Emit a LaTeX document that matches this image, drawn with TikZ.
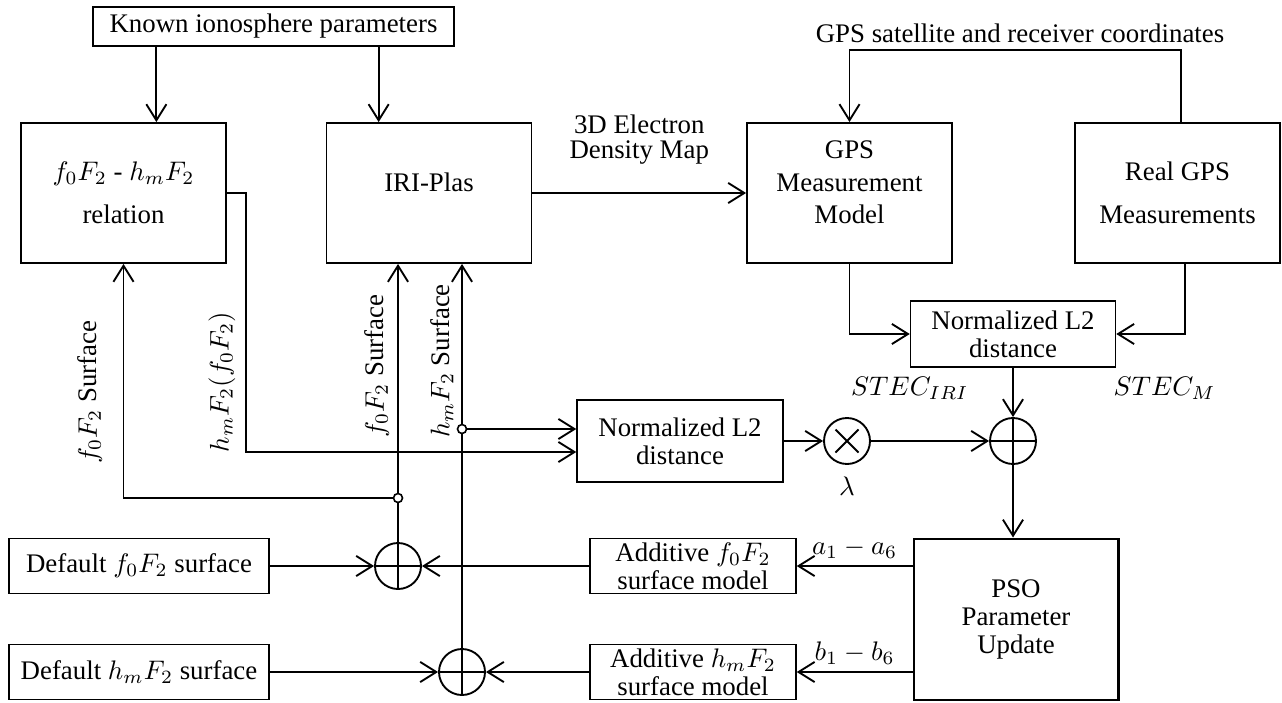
\documentclass[tikz,border=0pt]{standalone}
\usepackage[no-math]{fontspec}
\setmainfont{Liberation Serif}
\usetikzlibrary{arrows.meta,calc,positioning}
\newcommand{\pxu}{0.3726pt}

\tikzset{
  blk/.style={draw, line width=0.7pt, align=center, inner sep=0pt,
    minimum width=205*\pxu, minimum height=140*\pxu},
  sblk/.style={draw, line width=0.55pt, align=center, inner sep=0pt},
  opcirc/.style={circle, draw, line width=0.7pt, inner sep=0pt, minimum size=46*\pxu},
  sumop/.style={path picture={\draw[line width=0.6pt]
    (path picture bounding box.north) -- (path picture bounding box.south)
    (path picture bounding box.west) -- (path picture bounding box.east);}},
  jdot/.style={circle, draw, line width=0.6pt, inner sep=0pt, minimum size=9*\pxu},
  link/.style={line width=0.7pt},
  wire/.style={line width=0.7pt, -{Straight Barb[length=6pt,width=7.5pt]}}
}

\begin{document}
\begin{tikzpicture}[x=\pxu, y=-\pxu, font=\fontsize{10}{12}\selectfont]
  \useasboundingbox (0,0) rectangle (1282,702);

  % top row
  \node[blk, line width=0.6pt, minimum width=361*\pxu, minimum height=39*\pxu] (known) at (273.5,26.5) {Known ionosphere parameters};
  \node[blk] (rel) at (123.5,193) {$f_0F_2$ - $h_mF_2$\\[4pt]relation};
  \node[blk, text depth=8.4pt] (iri) at (429,193) {IRI-Plas};
  \node[blk] (gpsm) at (849.5,193) {GPS\\Measurement\\Model\\[-4pt]\mbox{}};
  \node[blk] (real) at (1177.5,193) {Real GPS\\[4pt]Measurements};
  \node (coordtxt) at (1020,33) {GPS satellite and receiver coordinates};

  % distances and operators
  \node[sblk, minimum width=205*\pxu, minimum height=66*\pxu] (nrmA) at (1013,334) {Normalized L2\\[-1.6pt]distance};
  \node[sblk, minimum width=206*\pxu, minimum height=82*\pxu] (nrmB) at (680,441) {Normalized L2\\[-1.6pt]distance};
  \node[opcirc] (mul) at (847,441) {};
  \node[opcirc, sumop] (sumA) at (1013,441) {};
  \node (lam) [below=1pt of mul] {$\lambda$};
  \node (stecI) [below=0pt of nrmA.south west] {$STEC_{IRI}$};
  \node (stecM) [below right=0pt and -4.5pt of nrmA.south east] {$STEC_M$};

  % bottom row
  \node[blk, line width=1.1pt, minimum width=204*\pxu, minimum height=161*\pxu] (pso) at (1016,619.5) {PSO\\[-1.4pt]Parameter\\[-1.4pt]Update};
  \node[sblk, minimum width=206*\pxu, minimum height=55*\pxu] (addF) at (693,566) {Additive $f_0F_2$\\[-1.5pt]surface model};
  \node[sblk, minimum width=206*\pxu, minimum height=55*\pxu] (addH) at (693,672) {Additive $h_mF_2$\\[-1.5pt]surface model};
  \node[sblk, minimum width=260*\pxu, minimum height=55*\pxu] (defF) at (139,566) {Default $f_0F_2$ surface};
  \node[sblk, minimum width=260*\pxu, minimum height=55*\pxu] (defH) at (139,672) {Default $h_mF_2$ surface};
  \node[opcirc, sumop] (sumF) at (398,566) {};
  \node[opcirc, sumop] (sumH) at (462,672) {};
  \node[jdot] (jF) at (398,498) {};
  \node[jdot] (jH) at (462,429) {};

  % surface labels
  \node[rotate=90] (f0lab) at (90,392) {$f_0F_2$ Surface};
  \node[rotate=90] (hflab) at (222,382) {$h_mF_2(f_0F_2)$};
  \node[rotate=90] (f0slab) at (377,366) {$f_0F_2$ Surface};
  \node[rotate=90] (hmslab) at (442,361) {$h_mF_2$ Surface};

  % connections
  \coordinate (kL) at ($(known.south west)!0.177!(known.south east)$);
  \coordinate (kR) at ($(known.south west)!0.79!(known.south east)$);
  \draw[wire] (kL) -- (kL |- rel.north);
  \draw[wire] (kR) -- (kR |- iri.north);
  \draw[wire] (iri) -- (gpsm) node[midway, above=7pt, align=center] (edm) {3D Electron\\[-2.7pt]Density Map};
  \draw[wire] ([xshift=3.5*\pxu]real.north) -- ++(0,-72) -| (gpsm.north);
  \draw[wire] (gpsm.south) |- (nrmA.west);
  \draw[wire] ([xshift=7.5*\pxu]real.south) |- (nrmA.east);
  \draw[wire] (nrmA) -- (sumA);
  \draw[wire] (nrmB) -- (mul);
  \draw[wire] (mul) -- (sumA);
  \draw[wire] (sumA) -- (sumA |- pso.north);
  \draw[wire] (pso.west |- addF) -- (addF) node[midway, above=-1pt] (aLab) {$a_1-a_6$};
  \draw[wire] (pso.west |- addH) -- (addH) node[midway, above=-1pt] (bLab) {$b_1-b_6$};
  \draw[wire] (addF) -- (sumF);
  \draw[wire] (addH) -- (sumH);
  \draw[wire] (defF) -- (sumF);
  \draw[wire] (defH) -- (sumH);
  \draw[link] (sumF) -- (jF);
  \draw[wire] (jF) -- (jF |- iri.south);
  \draw[wire] (jF) -| (rel.south);
  \draw[link] (sumH) -- (jH);
  \draw[wire] (jH) -- (jH |- iri.south);
  \draw[wire] (jH) -- (jH -| nrmB.west);
  \draw[wire] (rel.east) -- ++(19,0) |- ([yshift=-11*\pxu]nrmB.west);

  % multiply sign
  \draw[link] ($(mul.center)!0.68!(mul.45)$) -- ($(mul.center)!0.68!(mul.225)$)
              ($(mul.center)!0.68!(mul.135)$) -- ($(mul.center)!0.68!(mul.315)$);
\end{tikzpicture}
\end{document}
